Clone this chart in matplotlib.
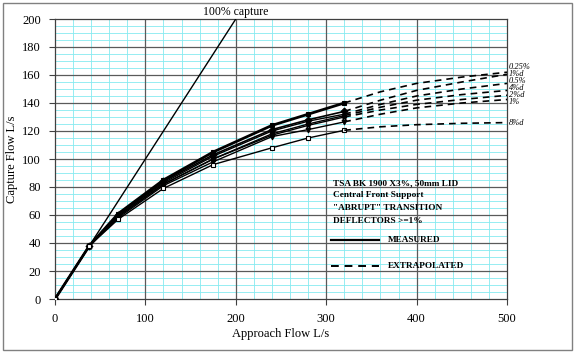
import matplotlib
matplotlib.use("Agg")
import matplotlib.pyplot as plt
from matplotlib.patches import Rectangle
import numpy as np

# ---- data ----
x_meas = [0, 38, 70, 120, 175, 240, 280, 320]
x_ext = [320, 360, 400, 450, 500]

series_names = ["0.25%", "1%d", "0.5%", "4%d", "2%d", "1%", "8%d"]
meas_0_25 = [0, 38, 61, 85, 105, 124, 132, 140]
meas_1d = [0, 38, 60, 84, 103, 121, 128, 134]
meas_0_5 = [0, 38, 60, 83, 102, 120, 127, 132]
meas_4d = [0, 38, 59, 82, 100, 118, 125, 131]
meas_2d = [0, 38, 59, 82, 100, 117, 124, 130]
meas_1 = [0, 38, 58, 81, 98, 116, 121, 126.5]
meas_8d = [0, 38, 57, 79, 96, 108, 115, 120.5]

ext_0_25 = [140, 148, 154, 158.5, 162]
ext_1d = [134, 142, 149, 155, 160.5]
ext_0_5 = [132, 139, 145, 150, 154]
ext_4d = [131, 137, 142, 146, 149]
ext_2d = [130, 135, 139, 142.5, 145.5]
ext_1 = [126.5, 132, 136.5, 140, 142.5]
ext_8d = [120.5, 123, 124.5, 125.5, 126]

label_y = [166, 160.5, 155.5, 150.5, 145.5, 140.7, 126]

capture_x = [0, 200]
capture_y = [0, 200]

meas_all = [meas_0_25, meas_1d, meas_0_5, meas_4d, meas_2d, meas_1, meas_8d]
ext_all = [ext_0_25, ext_1d, ext_0_5, ext_4d, ext_2d, ext_1, ext_8d]

markers = ["s", "D", "^", "x", "*", "v", "s"]
mfcs = ["black", "black", "black", "black", "black", "black", "white"]
lws = [2.0, 1.2, 1.0, 1.0, 1.0, 1.0, 1.0]

plt.rcParams['font.family'] = ['Liberation Serif', 'DejaVu Serif']

fig = plt.figure(figsize=(5.75, 3.53), dpi=100)
ax = fig.add_axes([55/575, 1-299/353, 452/575, 280/353])

ax.set_xlim(0, 500)
ax.set_ylim(0, 200)

# grids
for xv in np.arange(20, 500, 20):
    if xv % 100 != 0:
        ax.axvline(xv, color="#86eaf0", lw=0.6, zorder=0)
for yv in np.arange(5, 200, 5):
    if yv % 20 != 0:
        ax.axhline(yv, color="#86eaf0", lw=0.6, zorder=0)
for xv in range(100, 500, 100):
    ax.axvline(xv, color="#5a5a5a", lw=0.9, zorder=0.5)
for yv in range(20, 200, 20):
    ax.axhline(yv, color="#5a5a5a", lw=0.9, zorder=0.5)

for sp in ax.spines.values():
    sp.set_color("#404040")
    sp.set_linewidth(0.9)

ax.set_xticks(range(0, 501, 100))
ax.set_yticks(range(0, 201, 20))
ax.tick_params(direction="out", length=4, width=0.8, colors="#404040",
               labelcolor="black", labelsize=9, pad=6)

# 100% capture line
ax.plot(capture_x, capture_y, color="black", lw=1.0, zorder=3)
ax.text(200, 200.5, "100% capture", ha="center", va="bottom", fontsize=8.5,
        clip_on=False)

for i in range(len(series_names)):
    ax.plot(x_meas, meas_all[i], color="black", lw=lws[i], marker=markers[i],
            ms=3.5, mfc=mfcs[i], mec="black", mew=0.8, zorder=4)
    ax.plot(x_ext, ext_all[i], color="black", lw=1.2, ls=(0, (4, 3)), zorder=4)
    ax.text(502, label_y[i], series_names[i], fontsize=6, style="italic",
            ha="left", va="center", clip_on=False)

# annotation block
ann = ['TSA BK 1900 X3%, 50mm LID', 'Central Front Support',
       '"ABRUPT" TRANSITION', 'DEFLECTORS >=1%']
ann_y = [82.5, 74.5, 65, 55.7]
for t, yv in zip(ann, ann_y):
    ax.text(307, yv, t, fontsize=6.7, fontweight="bold", ha="left", va="center")
ax.plot([305, 358], [42, 42], color="black", lw=1.6)
ax.text(368, 42, "MEASURED", fontsize=6.7, fontweight="bold", ha="left", va="center")
ax.plot([305, 358], [23.8, 23.8], color="black", lw=1.4, ls=(0, (4, 3)))
ax.text(368, 23.8, "EXTRAPOLATED", fontsize=6.7, fontweight="bold", ha="left", va="center")

ax.set_xlabel("Approach Flow L/s", fontsize=9, labelpad=2)
ax.set_ylabel("Capture Flow L/s", fontsize=9, labelpad=3)

fig.patches.append(Rectangle((3/575, 3/353), 569/575, 347/353, transform=fig.transFigure,
                             fill=False, edgecolor="#808080", lw=1.0))

fig.savefig("out.png", dpi=100)
